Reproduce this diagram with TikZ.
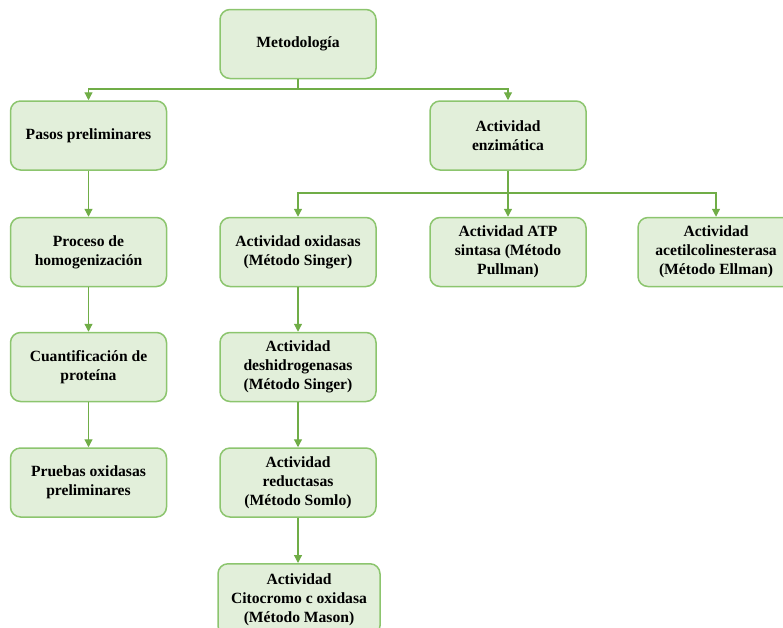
\documentclass[tikz,border=0pt]{standalone}
\usepackage{fontspec}
\setmainfont{Liberation Serif}
\usetikzlibrary{arrows.meta}
\definecolor{boxfill}{HTML}{E2EFDA}
\definecolor{boxline}{HTML}{8CC56E}
\definecolor{conn}{HTML}{70AD47}
\tikzset{
  box/.style={draw=boxline, fill=boxfill, line width=1.5pt, rounded corners=10pt,
    minimum width=156pt, minimum height=69pt, align=center, inner sep=2pt,
    font=\fontsize{15.6}{19}\selectfont\bfseries},
  link/.style={draw=conn, line width=1.2pt},
  arr/.style={link, -{Triangle[length=8pt,width=8pt]}}
}
\begin{document}
\begin{tikzpicture}[x=1pt,y=-1pt]
\useasboundingbox (0,0) rectangle (783,627);
\clip (0,0) rectangle (783,627);
\node[box] (met) at (298,44) {Metodología};
\node[box] (pasos) at (88.5,135.5) {Pasos preliminares};
\node[box] (enz) at (508,135.5) {Actividad\\enzimática};
\node[box] (proc) at (88.5,252) {Proceso de\\homogenización};
\node[box] (cuant) at (88.5,367) {Cuantificación de\\proteína};
\node[box] (prueb) at (88.5,482.5) {Pruebas oxidasas\\preliminares};
\node[box] (oxi) at (298,252) {Actividad oxidasas\\(Método Singer)};
\node[box] (atp) at (508,252) {Actividad ATP\\sintasa (Método\\Pullman)};
\node[box] (ace) at (716,252) {Actividad\\acetilcolinesterasa\\(Método Ellman)};
\node[box] (desh) at (298,367) {Actividad\\deshidrogenasas\\(Método Singer)};
\node[box] (red) at (298,482.5) {Actividad\\reductasas\\(Método Somlo)};
\node[box, minimum width=162pt, minimum height=72pt, anchor=north] (cito) at (299,563) {Actividad\\Citocromo c oxidasa\\(Método Mason)};
\coordinate (j1) at (298,89);
\coordinate (j2) at (508,193);
\draw[link] (met.south) -- (j1);
\draw[arr] (j1) -| (pasos.north);
\draw[arr] (j1) -| (enz.north);
\draw[arr] (enz.south) -- (atp.north);
\draw[arr] (j2) -| (oxi.north);
\draw[arr] (j2) -| (ace.north);
\draw[arr] (pasos.south) -- (proc.north);
\draw[arr] (proc.south) -- (cuant.north);
\draw[arr] (cuant.south) -- (prueb.north);
\draw[arr] (oxi.south) -- (desh.north);
\draw[arr] (desh.south) -- (red.north);
\draw[arr] (red.south) -- (red.south |- cito.north);
\end{tikzpicture}
\end{document}
